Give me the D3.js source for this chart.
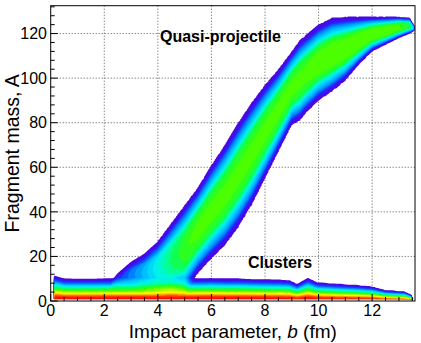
<!DOCTYPE html>
<html><head><meta charset="utf-8">
<script src="https://cdn.jsdelivr.net/npm/d3@7"></script>
<style>
html,body{margin:0;padding:0;background:#fff;}
svg{display:block;font-family:"Liberation Sans",Arial,Helvetica,sans-serif;}
</style>
</head><body>
<svg id="chart" width="421" height="343"></svg>
<script>
// ---- tick labels ----
const xTicks = [0, 2, 4, 6, 8, 10, 12];
const yTicks = [0, 20, 40, 60, 80, 100, 120];

// ---- cluster band (low-mass fragments): upper edge in A vs impact parameter b ----
const clusterB   = [0.15, 0.5, 1, 1.5, 2, 2.5, 3, 4, 5, 6, 6.5, 7, 7.5, 8, 8.5, 8.9, 9.2, 9.6, 9.95, 10.5, 11, 11.5, 12, 12.5, 13.2, 13.45, 13.55];
const clusterTop = [11.3, 10, 9.9, 9.9, 10, 10, 10, 10, 10, 10.2, 10, 10, 9.8, 9.6, 9.5, 9.3, 7.6, 10.3, 8.3, 7.8, 7.4, 7, 6.4, 4.8, 4.2, 2.8, 0];
// intensity profile across the cluster band (s = A / upper edge)
const clusterS = [0, 0.1, 0.15, 0.22, 0.28, 0.35, 0.4, 0.45, 0.55, 0.62, 0.7, 0.8, 0.9, 1.0, 1.02];
const clusterV = [1.0, 1.0, 0.98, 0.92, 0.82, 0.72, 0.64, 0.56, 0.48, 0.4, 0.3, 0.18, 0.1, 0.03, 0];

// ---- quasi-projectile band: lower / upper outer edges and peak intensity vs b ----
const qpB     = [2.3, 2.5, 3, 3.5, 4, 4.5, 5, 5.25, 5.5, 6, 6.5, 7, 7.5, 8, 8.5, 9, 9.3, 9.5, 10, 10.5, 11, 11.5, 12, 12.5, 13, 13.4, 13.55];
const qpUpper = [10, 13, 18, 21.5, 27, 35, 43, 47, 51, 61, 70, 80, 89, 97, 104, 112, 117, 119, 124, 127, 127.5, 127.5, 127.5, 127.5, 127.5, 127, 124];
const qpLower = [5, 5, 5, 4, 3, 2, 3, 8, 12.5, 19, 25, 33, 43, 55, 67, 79, 81, 84, 90, 94, 99, 106, 112, 115, 118, 120, 121];
const qpPeak  = [0.05, 0.12, 0.2, 0.28, 0.38, 0.47, 0.53, 0.55, 0.56, 0.56, 0.56, 0.56, 0.56, 0.56, 0.56, 0.56, 0.56, 0.56, 0.57, 0.58, 0.58, 0.58, 0.58, 0.58, 0.56, 0.5, 0.3];
// intensity profile across the QP band (u = 0 at edge, 1 at centre)
const qpProfU = [0, 0.12, 0.24, 0.34, 0.44, 0.54, 0.7, 1];
const qpProfF = [0.05, 0.16, 0.36, 0.5, 0.64, 0.84, 0.95, 1];

// ---- colour palette (ROOT rainbow) ----
const palStops  = [0, 0.1, 0.14, 0.2, 0.28, 0.36, 0.42, 0.48, 0.55, 0.64, 0.72, 0.8, 0.88, 1];
const palColors = ["#5800d8", "#3a10f0", "#1040ff", "#0080ff", "#00c0ff", "#00f0f0", "#00ffb0", "#10ff50", "#40ff00", "#b0ff00", "#ffff00", "#ffc000", "#ff6a00", "#ff0000"];

const svg = d3.select("#chart");
const M = {l: 50.7, r: 415, t: 5.7, b: 301};
const x = d3.scaleLinear().domain([0, 13.6]).range([M.l, M.r]);
const y = d3.scaleLinear().domain([0, 132.5]).range([M.b, M.t]);
const pal = d3.scaleLinear().domain(palStops).range(palColors).interpolate(d3.interpolateRgb).clamp(true);

svg.append("rect").attr("width", 421).attr("height", 343).attr("fill", "#fff");

// grid
const grid = svg.append("g").attr("stroke", "#555").attr("stroke-width", 1).attr("stroke-dasharray", "1,2");
grid.selectAll("line.vx").data(xTicks.filter(d => d > 0)).join("line")
  .attr("x1", d => x(d)).attr("x2", d => x(d)).attr("y1", M.t).attr("y2", M.b);
grid.selectAll("line.hy").data(yTicks.filter(d => d > 0)).join("line")
  .attr("y1", d => y(d)).attr("y2", d => y(d)).attr("x1", M.l).attr("x2", M.r);

// density field
const db = 0.05, dA = 0.5;
const nx = Math.round(13.6 / db) + 1, ny = Math.round(132.5 / dA) + 1;
const Tsc = d3.scaleLinear().domain(clusterB).range(clusterTop).clamp(true);
const profC = d3.scaleLinear().domain(clusterS).range(clusterV).clamp(true);
const upS = d3.scaleLinear().domain(qpB).range(qpUpper).clamp(true);
const loS = d3.scaleLinear().domain(qpB).range(qpLower).clamp(true);
const pkS = d3.scaleLinear().domain(qpB).range(qpPeak).clamp(true);
const profQ = d3.scaleLinear().domain(qpProfU).range(qpProfF).clamp(true);
const values = new Float64Array(nx * ny);
for (let j = 0; j < ny; j++) {
  const A = j * dA;
  for (let i = 0; i < nx; i++) {
    const b = i * db;
    let v = 0;
    if (b >= clusterB[0] && b <= clusterB[clusterB.length - 1] && A >= 1) {
      const T = Tsc(b);
      if (T > 0) v += profC(A / T);
    }
    if (b >= qpB[0] && b <= qpB[qpB.length - 1]) {
      const U = upS(b), L = loS(b), c = (U + L) / 2, h = (U - L) / 2;
      const t = Math.abs(A - c) / h;
      if (t <= 1) v += pkS(b) * profQ(1 - t);
    }
    values[j * nx + i] = v;
  }
}
const thresholds = d3.range(0.02, 1.0, 0.04);
const contours = d3.contours().size([nx, ny]).thresholds(thresholds)(values);
const proj = d3.geoTransform({point: function(px, py) { this.stream.point(x((px - 0.5) * db), y((py - 0.5) * dA)); }});
const path = d3.geoPath(proj);
svg.append("clipPath").attr("id", "clip").append("rect")
  .attr("x", M.l).attr("y", M.t).attr("width", M.r - M.l).attr("height", M.b - M.t);
svg.append("g").attr("clip-path", "url(#clip)")
  .selectAll("path").data(contours).join("path")
  .attr("d", path).attr("fill", d => pal(d.value + 0.02)).attr("stroke", "none");

// frame
svg.append("rect").attr("x", M.l).attr("y", M.t).attr("width", M.r - M.l).attr("height", M.b - M.t)
  .attr("fill", "none").attr("stroke", "#000").attr("stroke-width", 1);

// ticks
const tk = svg.append("g").attr("stroke", "#000").attr("stroke-width", 1);
const xMinor = d3.range(0, 13.6, 0.5).filter(d => d % 2 !== 0);
const yMinor = d3.range(0, 132.5, 4).filter(d => d % 20 !== 0);
tk.selectAll("line.xM").data(xTicks).join("line")
  .attr("x1", d => x(d)).attr("x2", d => x(d)).attr("y1", M.b).attr("y2", M.b - 7);
tk.selectAll("line.xm").data(xMinor).join("line")
  .attr("x1", d => x(d)).attr("x2", d => x(d)).attr("y1", M.b).attr("y2", M.b - 4);
tk.selectAll("line.yM").data(yTicks).join("line")
  .attr("y1", d => y(d)).attr("y2", d => y(d)).attr("x1", M.l).attr("x2", M.l + 7);
tk.selectAll("line.ym").data(yMinor).join("line")
  .attr("y1", d => y(d)).attr("y2", d => y(d)).attr("x1", M.l).attr("x2", M.l + 4);

// tick labels
svg.append("g").selectAll("text").data(xTicks).join("text")
  .attr("x", d => x(d)).attr("y", 316).attr("text-anchor", "middle")
  .attr("font-size", 16).text(d => d);
svg.append("g").selectAll("text").data(yTicks).join("text")
  .attr("x", 47).attr("y", d => y(d) + 5.7).attr("text-anchor", "end")
  .attr("font-size", 16).text(d => d);

// axis titles
const xt = svg.append("text").attr("x", (M.l + M.r) / 2).attr("y", 337.5).attr("text-anchor", "middle").attr("font-size", 19);
xt.append("tspan").text("Impact parameter, ");
xt.append("tspan").attr("font-style", "italic").text("b");
xt.append("tspan").text(" (fm)");
svg.append("text").attr("transform", `translate(19,${(M.t + M.b) / 2}) rotate(-90)`)
  .attr("text-anchor", "middle").attr("font-size", 19.5).text("Fragment mass, A");

// annotations
svg.append("text").attr("x", 160).attr("y", 42).attr("font-size", 16).attr("font-weight", "bold").text("Quasi-projectile");
svg.append("text").attr("x", 248).attr("y", 268).attr("font-size", 16).attr("font-weight", "bold").text("Clusters");
</script>
</body></html>
